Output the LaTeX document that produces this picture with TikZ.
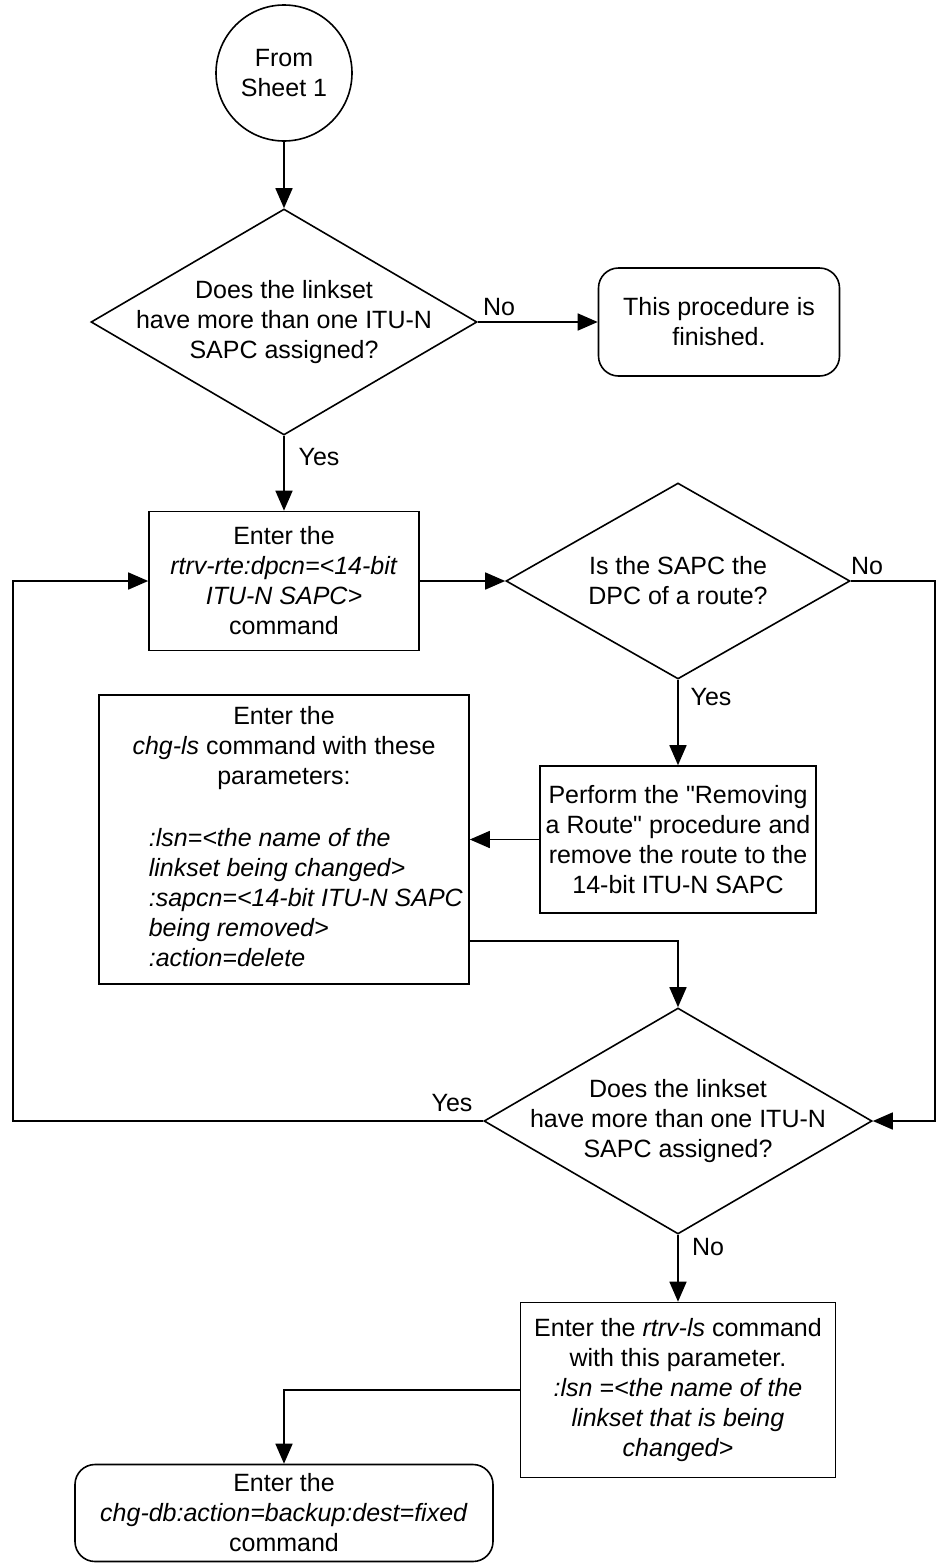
\documentclass[tikz,border=0pt]{standalone}
\usepackage{fontspec}
\setmainfont{Liberation Sans}[Ligatures=TeXOff]
\usetikzlibrary{shapes.geometric,arrows.meta}
\begin{document}
\begin{tikzpicture}[x=1pt,y=-1pt,
  line width=1.6pt,
  arr/.style={-{Triangle[length=20pt,width=17pt]}},
  txt/.style={font=\fontsize{25}{30}\selectfont, align=center, inner sep=0pt},
  lbl/.style={font=\fontsize{25}{30}\selectfont, inner sep=0pt},
  proc/.style={draw, rectangle, inner sep=0pt},
  term/.style={draw, rectangle, rounded corners=20pt, inner sep=0pt},
  dec/.style={draw, diamond, inner sep=0pt},
]
\useasboundingbox (0,0) rectangle (937,1564);

% shapes
\node[draw, circle, minimum size=136pt, inner sep=0pt] (start) at (284,73) {};
\node[txt] (startt) at (start) {From\\Sheet 1};

\node[dec, minimum width=386pt, minimum height=226pt] (d1) at (284,322) {};
\node[txt] (d1t) at (d1) {Does the linkset\\have more than one ITU-N\\SAPC assigned?};

\node[term, minimum width=241pt, minimum height=108pt] (fin) at (719,322) {};
\node[txt] (fint) at (fin) {This procedure is\\finished.};

\node[proc, minimum width=270pt, minimum height=139pt] (rte) at (284,581) {};
\node[txt] (rtet) at (rte) {Enter the\\\textit{rtrv-rte:dpcn=<14-bit}\\\textit{ITU-N SAPC>}\\command};

\node[dec, minimum width=344pt, minimum height=196pt] (d2) at (678,581) {};
\node[txt] (d2t) at (d2) {Is the SAPC the\\DPC of a route?};

\node[proc, minimum width=276pt, minimum height=147pt] (perf) at (678,839.5) {};
\node[txt] (perft) at (perf) {Perform the "Removing\\a Route" procedure and\\remove the route to the\\14-bit ITU-N SAPC};

\node[proc, minimum width=370pt, minimum height=289pt] (chg) at (284,839.5) {};
\node[txt] (chgt1) at (284,748) {Enter the\\\textit{chg-ls} command with these\\parameters:};
\node[txt, align=left, anchor=west] (chgt2) at (148,898) {\textit{:lsn=<the name of the}\\\textit{linkset being changed>}\\\textit{:sapcn=<14-bit ITU-N SAPC}\\\textit{being removed>}\\\textit{:action=delete}};

\node[dec, minimum width=388pt, minimum height=226pt] (d3) at (678,1121) {};
\node[txt] (d3t) at (d3) {Does the linkset\\have more than one ITU-N\\SAPC assigned?};

\node[proc, minimum width=315pt, minimum height=175pt] (rls) at (678,1390) {};
\node[txt] (rlst) at (rls) {Enter the \textit{rtrv-ls} command\\with this parameter.\\\textit{:lsn =<the name of the}\\\textit{linkset that is being}\\\textit{changed>}};

\node[term, minimum width=418pt, minimum height=97pt] (fix) at (284,1513) {};
\node[txt] (fixt) at (fix) {Enter the\\\textit{chg-db:action=backup:dest=fixed}\\command};

% helper coordinates
\coordinate (c1) at (935,581);
\coordinate (c2) at (935,1121);
\coordinate (c4) at (13,1121);
\coordinate (c5) at (13,581);

% connectors
\draw[arr] (start.south) -- (d1.north);
\draw[arr] (d1.east) -- (fin.west);
\draw[arr] (d1.south) -- (rte.north);
\draw[arr] (rte.east) -- (d2.west);
\draw[arr] (d2.east) -- (c1) -- (c2) -- (d3.east);
\draw[arr] (d2.south) -- (perf.north);
\draw[arr] (perf.west) -- (chg.east);
\draw[arr] ([yshift=-101.5pt]chg.east) -| (d3.north);
\draw[arr] (d3.west) -- (c4) -- (c5) -- (rte.west);
\draw[arr] (d3.south) -- (rls.north);
\draw[arr] (rls.west) -| (fix.north);

% labels
\node[lbl] (l1) at (499,307) {No};
\node[lbl] (l2) at (319,457) {Yes};
\node[lbl] (l3) at (867,566) {No};
\node[lbl] (l4) at (711,697) {Yes};
\node[lbl] (l5) at (452,1103) {Yes};
\node[lbl] (l6) at (708,1247) {No};
\end{tikzpicture}
\end{document}
